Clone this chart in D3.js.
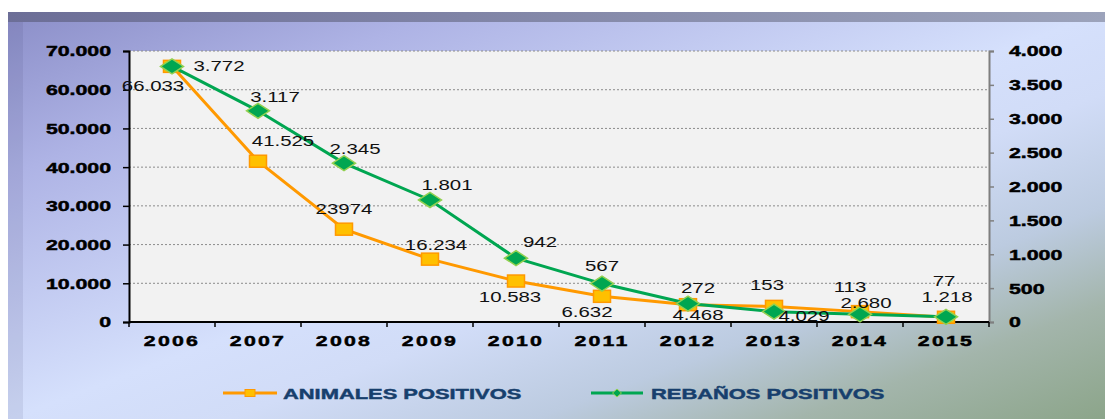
<!DOCTYPE html>
<html>
<head>
<meta charset="utf-8">
<script src="https://cdn.jsdelivr.net/npm/d3@7"></script>
<style>
  body { margin: 0; background: #fff; }
  svg { display: block; }
</style>
</head>
<body>
<script>
// values
var years = ["2006", "2007", "2008", "2009", "2010", "2011", "2012", "2013", "2014", "2015"];
var animales = [66033, 41525, 23974, 16234, 10583, 6632, 4468, 4029, 2680, 1218];
var animalesLabels = ["66.033", "41.525", "23974", "16.234", "10.583", "6.632", "4.468", "4.029", "2.680", "1.218"];
var rebanos = [3772, 3117, 2345, 1801, 942, 567, 272, 153, 113, 77];
var rebanosLabels = ["3.772", "3.117", "2.345", "1.801", "942", "567", "272", "153", "113", "77"];
var leftTicks = [0, 10000, 20000, 30000, 40000, 50000, 60000, 70000];
var rightTicks = [0, 500, 1000, 1500, 2000, 2500, 3000, 3500, 4000];
var seriesNames = ["ANIMALES POSITIVOS", "REBAÑOS POSITIVOS"];

// where excel dropped each data label, relative to its point
var animalesOffsets = [[-19, 20], [25, -20], [0, -20], [6, -14], [-6, 16], [-15, 16], [10, 10], [30, 9], [6, -9], [1, -20]];
var rebanosOffsets = [[47, -1], [17, -14], [11, -14], [17, -15], [24, -16], [0, -18], [10, -16], [-7, -27], [-10, -27], [-2, -36]];

var W = 1105, H = 419;
// plot box (window.top is taken, so p*)
var pLeft = 129, pRight = 989, pTop = 51, pBottom = 322;
var orange = "#ff9900", green = "#00a651";
var FONT = "'Liberation Sans', Arial, sans-serif";

var fmt = d3.formatLocale({ decimal: ",", thousands: ".", grouping: [3], currency: ["", ""] }).format(",.0f");

var svg = d3.select("body").append("svg").attr("width", W).attr("height", H);
var defs = svg.append("defs");

var bg = defs.append("linearGradient").attr("id", "bg")
  .attr("x1", 0).attr("y1", 0).attr("x2", 1).attr("y2", 1);
[[0, "#8b8ec8"], [0.2, "#aeb3e5"], [0.5, "#d5e0fc"], [0.6, "#d1dcf7"], [0.74, "#bccbe0"], [0.86, "#a3b5ab"], [1, "#8ca58a"]]
  .forEach(function(s) { bg.append("stop").attr("offset", s[0]).attr("stop-color", s[1]); });

var band = defs.append("linearGradient").attr("id", "band");
band.append("stop").attr("offset", 0).attr("stop-color", "#6c6e97");
band.append("stop").attr("offset", 1).attr("stop-color", "#9ca3bb");

svg.append("rect").attr("width", W).attr("height", H).attr("fill", "#fff");
svg.append("rect").attr("x", 8).attr("y", 12).attr("width", W - 8).attr("height", H - 12).attr("fill", "url(#bg)");
svg.append("rect").attr("x", 8).attr("y", 22).attr("width", 15).attr("height", H - 22)
  .attr("fill", "#2a2c5a").attr("opacity", 0.09);
svg.append("rect").attr("x", 8).attr("y", 12).attr("width", W - 8).attr("height", 10).attr("fill", "url(#band)");

// scales
var x = d3.scaleBand().domain(years).range([pLeft, pRight]);
var yL = d3.scaleLinear().domain([0, 70000]).range([pBottom, pTop]);
var yR = d3.scaleLinear().domain([0, 4000]).range([pBottom, pTop]);
var cx = function(i) { return x(years[i]) + x.bandwidth() / 2; };

// plot area
svg.append("rect").attr("x", pLeft).attr("y", pTop).attr("width", pRight - pLeft).attr("height", pBottom - pTop)
  .attr("fill", "#f2f2f2");

svg.append("g").selectAll("line").data(leftTicks.slice(1)).enter().append("line")
  .attr("x1", pLeft).attr("x2", pRight)
  .attr("y1", function(d) { return yL(d); }).attr("y2", function(d) { return yL(d); })
  .attr("stroke", "#8c8c8c").attr("stroke-width", 1).attr("stroke-dasharray", "2,2");

// the source picture was pasted wider than it was drawn, so text is stretched
function stretch(sel, k) {
  sel.each(function() {
    var t = d3.select(this);
    t.attr("transform", "translate(" + t.attr("data-x") + "," + t.attr("data-y") + ") scale(" + k + ",1)");
  });
}
// bold in the source is heavier than liberation bold
function heavy(sel, c) {
  sel.attr("stroke", c).attr("stroke-width", 0.45);
}

// left axis
var gL = svg.append("g").attr("transform", "translate(" + pLeft + ",0)")
  .call(d3.axisLeft(yL).tickValues(leftTicks).tickSize(6).tickFormat(""));
gL.select(".domain").attr("stroke", "#000").attr("stroke-width", 2);
gL.selectAll(".tick line").attr("stroke", "#000").attr("stroke-width", 1.5);
svg.append("g").selectAll("text").data(leftTicks).enter().append("text")
  .attr("data-x", 111).attr("data-y", function(d) { return yL(d) + 5.4; })
  .attr("text-anchor", "end")
  .style("font", "bold 15px " + FONT).attr("fill", "#000")
  .text(function(d) { return fmt(d); })
  .call(stretch, 1.42).call(heavy, "#000");

// right axis
var gR = svg.append("g").attr("transform", "translate(" + pRight + ",0)")
  .call(d3.axisRight(yR).tickValues(rightTicks).tickSize(5).tickFormat(""));
gR.select(".domain").attr("stroke", "#7f7f7f").attr("stroke-width", 2);
gR.selectAll(".tick line").attr("stroke", "#7f7f7f").attr("stroke-width", 1.5);
svg.append("g").selectAll("text").data(rightTicks).enter().append("text")
  .attr("data-x", 1009).attr("data-y", function(d) { return yR(d) + 5.4; })
  .style("font", "bold 15px " + FONT).attr("fill", "#000")
  .text(function(d) { return fmt(d); })
  .call(stretch, 1.42).call(heavy, "#000");

// bottom axis, ticks between categories
var gB = svg.append("g").attr("transform", "translate(0," + pBottom + ")");
gB.append("line").attr("x1", pLeft).attr("x2", pRight).attr("stroke", "#000").attr("stroke-width", 2);
gB.selectAll("line.t").data(years.concat(["end"])).enter().append("line").attr("class", "t")
  .attr("x1", function(d, i) { return pLeft + i * x.bandwidth(); })
  .attr("x2", function(d, i) { return pLeft + i * x.bandwidth(); })
  .attr("y1", 0).attr("y2", 5).attr("stroke", "#000").attr("stroke-width", 1.5);
svg.append("g").selectAll("text").data(years).enter().append("text")
  .attr("data-x", function(d, i) { return cx(i); }).attr("data-y", 346)
  .attr("text-anchor", "middle").attr("letter-spacing", 1.6)
  .style("font", "bold 15px " + FONT).attr("fill", "#000")
  .text(function(d) { return d; })
  .call(stretch, 1.42).call(heavy, "#000");

// lines
var lineA = d3.line().x(function(d, i) { return cx(i); }).y(function(d) { return yL(d); });
var lineR = d3.line().x(function(d, i) { return cx(i); }).y(function(d) { return yR(d); });

svg.append("path").datum(animales).attr("d", lineA)
  .attr("fill", "none").attr("stroke", orange).attr("stroke-width", 3);
svg.append("g").selectAll("rect").data(animales).enter().append("rect")
  .attr("x", function(d, i) { return cx(i) - 8.5; }).attr("y", function(d) { return yL(d) - 6; })
  .attr("width", 17).attr("height", 12)
  .attr("fill", "#ffc000").attr("stroke", orange).attr("stroke-width", 1.5);

svg.append("path").datum(rebanos).attr("d", lineR)
  .attr("fill", "none").attr("stroke", green).attr("stroke-width", 3);
function diamond(w, h) {
  return "M" + (-w / 2) + ",0L0," + (-h / 2) + "L" + (w / 2) + ",0L0," + (h / 2) + "Z";
}
svg.append("g").selectAll("path").data(rebanos).enter().append("path")
  .attr("d", diamond(23, 15))
  .attr("transform", function(d, i) { return "translate(" + cx(i) + "," + yR(d) + ")"; })
  .attr("fill", green).attr("stroke", "#92d050").attr("stroke-width", 1.5);

// data labels
function labels(vals, texts, offs, scale) {
  svg.append("g").selectAll("text").data(vals).enter().append("text")
    .attr("data-x", function(d, i) { return cx(i) + offs[i][0]; })
    .attr("data-y", function(d, i) { return scale(d) + offs[i][1] + 5.1; })
    .attr("text-anchor", "middle")
    .style("font", "14px " + FONT).attr("fill", "#111")
    .text(function(d, i) { return texts[i]; })
    .call(stretch, 1.46);
}
labels(animales, animalesLabels, animalesOffsets, yL);
labels(rebanos, rebanosLabels, rebanosOffsets, yR);

// legend
var lg = svg.append("g");
lg.append("line").attr("x1", 223).attr("x2", 277).attr("y1", 393).attr("y2", 393)
  .attr("stroke", orange).attr("stroke-width", 3);
lg.append("rect").attr("x", 245).attr("y", 389.5).attr("width", 10).attr("height", 7)
  .attr("fill", "#ffc000").attr("stroke", orange).attr("stroke-width", 1);
lg.append("line").attr("x1", 591).attr("x2", 643).attr("y1", 393).attr("y2", 393)
  .attr("stroke", green).attr("stroke-width", 3);
lg.append("path").attr("d", diamond(9, 8)).attr("transform", "translate(617,393)")
  .attr("fill", green).attr("stroke", "#92d050").attr("stroke-width", 1);
lg.selectAll("text").data(seriesNames).enter().append("text")
  .attr("data-x", function(d, i) { return i === 0 ? 283 : 651; }).attr("data-y", 398.5)
  .style("font", "bold 15px " + FONT).attr("fill", "#173f6d")
  .text(function(d) { return d; })
  .call(stretch, 1.46).call(heavy, "#173f6d");
</script>
</body>
</html>
